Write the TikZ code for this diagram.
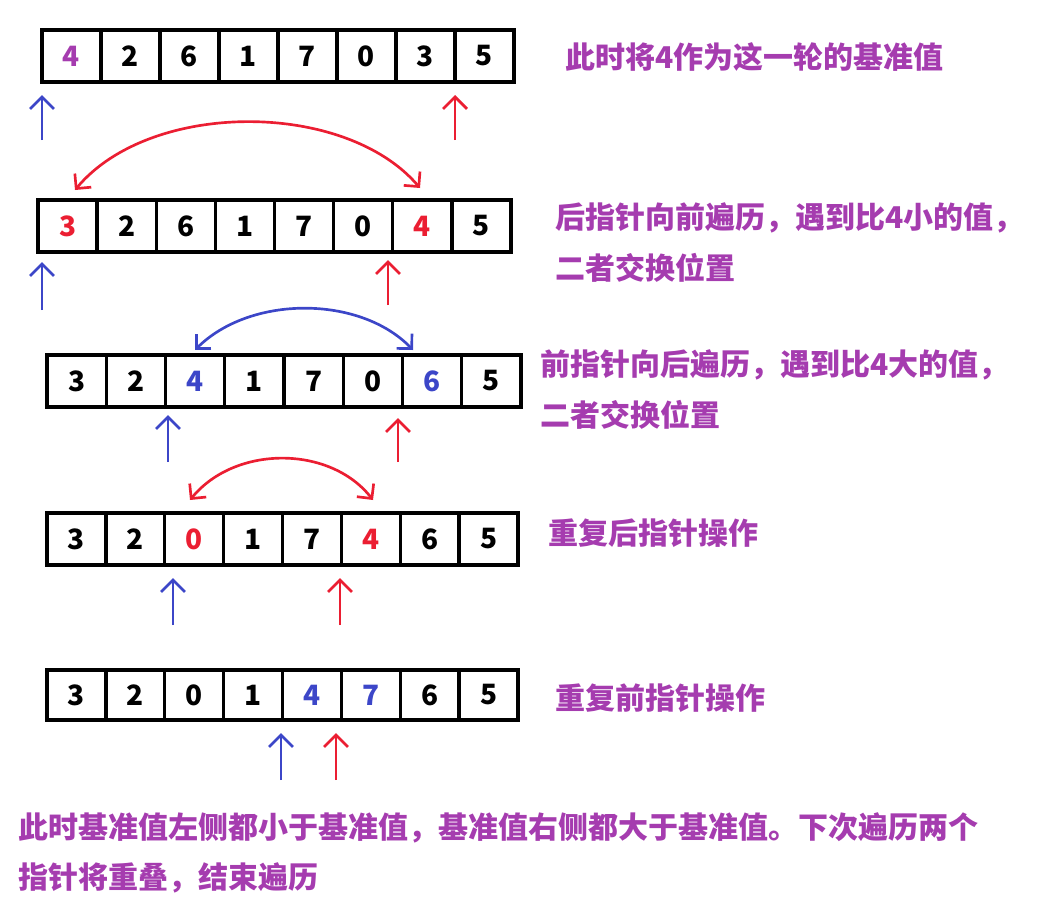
\documentclass[tikz,border=0pt]{standalone}
\usepackage{fontspec}
\setmainfont{Noto Sans CJK SC}
\usetikzlibrary{arrows.meta}
\definecolor{pblue}{RGB}{60,70,200}
\definecolor{pred}{RGB}{235,30,50}
\definecolor{ppurp}{RGB}{165,60,175}
\tikzset{
 ptr/.style={line width=2pt,-{Straight Barb[length=9pt,width=18pt]}},
 swap/.style={line width=2pt,{Straight Barb[length=8pt,width=16pt]}-{Straight Barb[length=8pt,width=16pt]}},
 note/.style={anchor=west,text=ppurp,font=\bfseries\fontsize{22.5}{26}\selectfont,inner sep=0pt},
 num/.style={font=\bfseries\fontsize{21}{24}\selectfont}
}
\newcommand{\arow}[5]{%
 \foreach \v [count=\i] in \rowvals {
  \pgfmathsetmacro{\w}{(#3-#2)/8}
  \pgfmathsetmacro{\xa}{#2+(\i-1)*\w}
  \pgfmathsetmacro{\xb}{#2+\i*\w}
  \draw[line width=2.6pt] (\xa,#4) rectangle (\xb,#5);
  \node[num] (#1\i) at ({(\xa+\xb)/2},{(#4+#5)/2}) {\v};
 }}
\begin{document}
\begin{tikzpicture}[x=0.75pt,y=-0.75pt]
\useasboundingbox (0,0) rectangle (1043,914);
% row 1
\def\rowvals{{\textcolor{ppurp}{4}},2,6,1,7,0,3,5}
\arow{a}{42}{514}{30}{82}
\node[note] (t1) at (565,57) {此时将4作为这一轮的基准值};
\coordinate (ab0) at (42,140); \coordinate (ab1) at (42,95);
\coordinate (ar0) at (455,140); \coordinate (ar1) at (455,95);
\draw[ptr,pblue] (ab0) -- (ab1);
\draw[ptr,pred] (ar0) -- (ar1);
% row 2
\def\rowvals{{\textcolor{pred}{3}},2,6,1,7,0,{\textcolor{pred}{4}},5}
\arow{b}{38}{511}{200}{252}
\coordinate (s1a) at (75,190); \coordinate (s1b) at (420,188);
\draw[swap,pred] (s1a) .. controls (150,100) and (345,100) .. (s1b);
\node[note] (t2) at (555,218) {后指针向前遍历，遇到比4小的值，};
\node[note] (t2b) at (555,268) {二者交换位置};
\coordinate (bb0) at (42,310); \coordinate (bb1) at (42,262);
\coordinate (br0) at (388,305); \coordinate (br1) at (388,260);
\draw[ptr,pblue] (bb0) -- (bb1);
\draw[ptr,pred] (br0) -- (br1);
% row 3
\def\rowvals{3,2,{\textcolor{pblue}{4}},1,7,0,{\textcolor{pblue}{6}},5}
\arow{c}{47}{521}{355}{407}
\coordinate (s2a) at (195,350); \coordinate (s2b) at (413,350);
\draw[swap,pblue] (s2a) .. controls (250,295) and (360,295) .. (s2b);
\node[note] (t3) at (540,365) {前指针向后遍历，遇到比4大的值，};
\node[note] (t3b) at (540,415) {二者交换位置};
\coordinate (cb0) at (168,462); \coordinate (cb1) at (168,415);
\coordinate (cr0) at (398,462); \coordinate (cr1) at (398,418);
\draw[ptr,pblue] (cb0) -- (cb1);
\draw[ptr,pred] (cr0) -- (cr1);
% row 4
\def\rowvals{3,2,{\textcolor{pred}{0}},1,7,{\textcolor{pred}{4}},6,5}
\arow{d}{47}{518}{513}{565}
\coordinate (s3a) at (190,500); \coordinate (s3b) at (373,500);
\draw[swap,pred] (s3a) .. controls (235,445) and (330,445) .. (s3b);
\node[note] (t4) at (548,533) {重复后指针操作};
\coordinate (db0) at (173,625); \coordinate (db1) at (173,578);
\coordinate (dr0) at (340,625); \coordinate (dr1) at (340,578);
\draw[ptr,pblue] (db0) -- (db1);
\draw[ptr,pred] (dr0) -- (dr1);
% row 5
\def\rowvals{3,2,0,1,{\textcolor{pblue}{4}},{\textcolor{pblue}{7}},6,5}
\arow{e}{47}{518}{670}{720}
\node[note] (t5) at (555,698) {重复前指针操作};
\coordinate (eb0) at (281,780); \coordinate (eb1) at (281,733);
\coordinate (er0) at (336,780); \coordinate (er1) at (336,733);
\draw[ptr,pblue] (eb0) -- (eb1);
\draw[ptr,pred] (er0) -- (er1);
% bottom
\node[note] (t6) at (18,828) {此时基准值左侧都小于基准值，基准值右侧都大于基准值。下次遍历两个};
\node[note] (t6b) at (18,878) {指针将重叠，结束遍历};
\end{tikzpicture}
\end{document}
